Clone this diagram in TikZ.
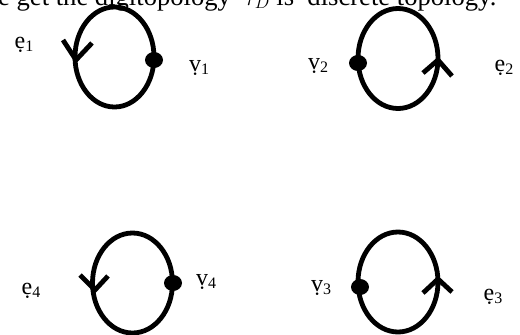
\documentclass[tikz,border=0pt]{standalone}
\usepackage{fontspec}
\setmainfont{Liberation Serif}
\usetikzlibrary{shapes.geometric}
\newcommand{\lsub}[1]{\raisebox{-2.5pt}{\fontsize{16}{16}\selectfont #1}}
\begin{document}
\begin{tikzpicture}[x=1pt,y=-1pt,
  loopline/.style={line width=4.8pt},
  vdot/.style={fill=black,ellipse,inner sep=0pt,minimum width=18pt,minimum height=16pt},
  lbl/.style={font=\fontsize{24}{26}\selectfont,inner sep=0pt},
  tip/.style={line width=4.8pt,line join=miter}]
\useasboundingbox (0,0) rectangle (520,335);
\node[anchor=base west,inner sep=0pt,font=\fontsize{26.6}{28}\selectfont] (title) at (-2,5) {e get the digitopology \ $\tau_{D}$ is \ discrete topology.};
% loop 1
\draw[loopline] (114.5,57) ellipse [x radius=39.5, y radius=50];
\node[vdot] (v1) at (154,60) {};
\coordinate (a1) at (63,40); \coordinate (t1) at (76,60); \coordinate (b1) at (92,43);
\draw[tip] (a1) -- (t1) -- (b1);
\node[lbl] (e1l) at (24,45) {ẹ\lsub{1}};
\node[lbl] (v1l) at (199,68) {ṿ\lsub{1}};
% loop 2
\draw[loopline] (398,58.5) ellipse [x radius=40, y radius=50];
\node[vdot] (v2) at (358,63) {};
\coordinate (a2) at (423,73); \coordinate (t2) at (438,60); \coordinate (b2) at (452,76);
\draw[tip] (a2) -- (t2) -- (b2);
\node[lbl] (v2l) at (318,66) {ṿ\lsub{2}};
\node[lbl] (e2l) at (504,68) {ẹ\lsub{2}};
% loop 4
\draw[loopline] (132.5,283) ellipse [x radius=40, y radius=50];
\node[vdot] (v4) at (173,283) {};
\coordinate (a4) at (80,275); \coordinate (t4) at (95,290); \coordinate (b4) at (108,276);
\draw[tip] (a4) -- (t4) -- (b4);
\node[lbl] (e4l) at (31,291) {ẹ\lsub{4}};
\node[lbl] (v4l) at (206,282) {ṿ\lsub{4}};
% loop 3
\draw[loopline] (398,282) ellipse [x radius=40, y radius=50];
\node[vdot] (v3) at (360,287) {};
\coordinate (a3) at (423,293); \coordinate (t3) at (438,279); \coordinate (b3) at (452,292);
\draw[tip] (a3) -- (t3) -- (b3);
\node[lbl] (v3l) at (321,288) {ṿ\lsub{3}};
\node[lbl] (e3l) at (493,297) {ẹ\lsub{3}};
\end{tikzpicture}
\end{document}
